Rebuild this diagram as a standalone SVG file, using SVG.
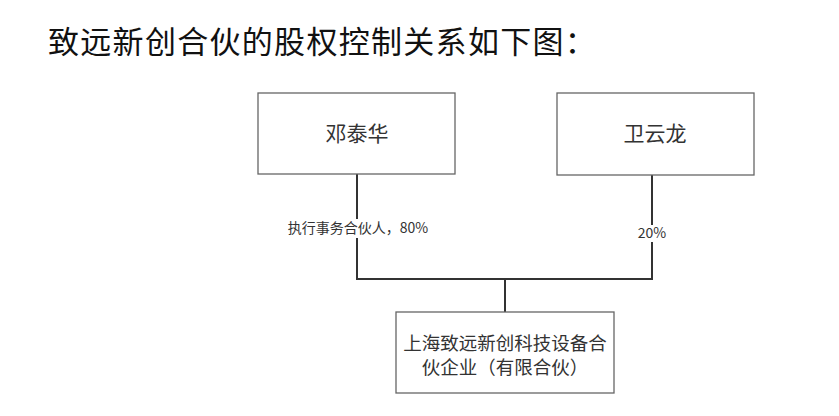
<svg xmlns="http://www.w3.org/2000/svg" width="839" height="416" viewBox="0 0 839 416">
<style>
.box{fill:#fff;stroke:#666;stroke-width:1.3}
.t{font-family:"Noto Sans CJK SC","Liberation Sans",sans-serif;fill:#333;text-anchor:middle}
.lbl{font-family:"Noto Sans CJK SC","Liberation Sans",sans-serif;fill:#333;font-size:14px;text-anchor:middle}
.ln{fill:none;stroke:#333;stroke-width:2}
</style>
<rect width="839" height="416" fill="#fff"/>
<text x="48" y="53" font-family="'Noto Sans CJK SC',sans-serif" font-size="31" fill="#111" letter-spacing="1.3">致远新创合伙的股权控制关系如下图：</text>
<g id="connectors">
<path class="ln" d="M357 174 V279 H652 V175"/>
<path class="ln" d="M505 279 V312"/>
<rect x="282" y="219" width="152" height="19" fill="#fff"/>
<text class="lbl" x="358" y="233">执行事务合伙人，80%</text>
<rect x="638" y="225" width="28" height="17" fill="#fff"/>
<text class="lbl" x="652" y="238">20%</text>
</g>
<g id="n1">
<rect class="box" x="258" y="93" width="197" height="81"/>
<text class="t" x="357" y="141" font-size="21">邓泰华</text>
</g>
<g id="n2">
<rect class="box" x="557" y="93" width="197" height="82"/>
<text class="t" x="655" y="141" font-size="21">卫云龙</text>
</g>
<g id="n3">
<rect class="box" x="396" y="312" width="218" height="81"/>
<text class="t" x="505" y="350" font-size="18.5">上海致远新创科技设备合</text>
<text class="t" x="505" y="374" font-size="18.5">伙企业（有限合伙）</text>
</g>
</svg>
